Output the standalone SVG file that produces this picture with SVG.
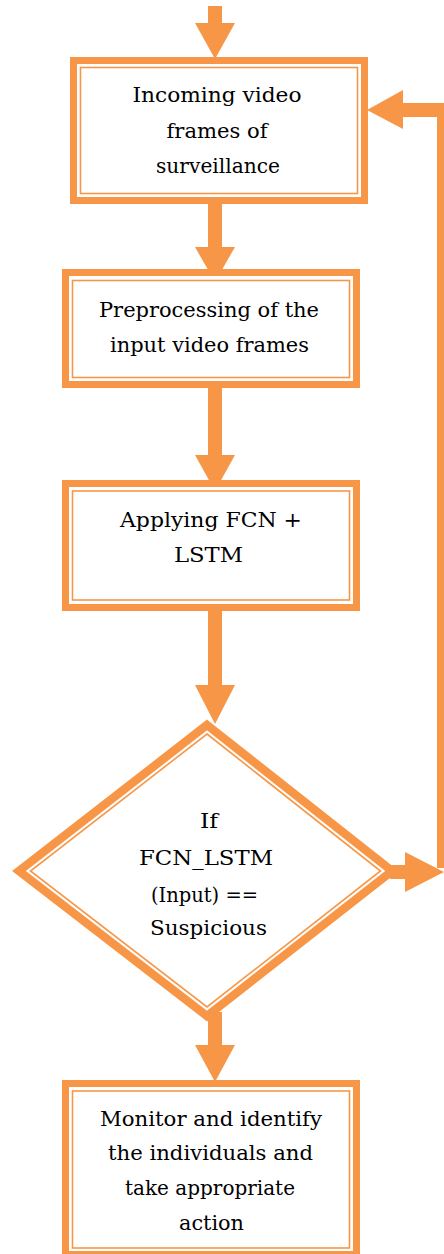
<svg xmlns="http://www.w3.org/2000/svg" width="444" height="1254" viewBox="0 0 444 1254">
<style>
.bg{fill:#FFFFFF}
.outer{fill:#FFFFFF;stroke:#F79646;stroke-width:7;stroke-linejoin:miter}
.dia{stroke-width:8.5}
.inner{fill:none;stroke:#F79646;stroke-width:1.6}
.shaft{stroke:#F79646;stroke-width:14;fill:none}
.head{fill:#F79646;stroke:none}
.t{font-family:"DejaVu Serif","Liberation Serif",serif;font-size:21px;fill:#000000;text-anchor:middle}
</style>
<rect class="bg" x="0" y="0" width="444" height="1254"/>
<g id="connectors">
  <line class="shaft" x1="215" y1="6" x2="215" y2="25"/>
  <polygon class="head" points="195,23 235,23 215,59"/>
  <line class="shaft" x1="215" y1="204" x2="215" y2="249"/>
  <polygon class="head" points="195,247 235,247 215,282"/>
  <line class="shaft" x1="215" y1="386" x2="215" y2="457"/>
  <polygon class="head" points="195,455 235,455 215,491"/>
  <line class="shaft" x1="215" y1="610" x2="215" y2="687"/>
  <polygon class="head" points="195,685 235,685 215,724"/>
  <line class="shaft" x1="215" y1="1012" x2="215" y2="1047"/>
  <polygon class="head" points="195,1045 235,1045 215,1082"/>
  <line class="shaft" x1="390" y1="872" x2="407" y2="872"/>
  <polygon class="head" points="405,852 405,892 444,872"/>
  <line class="shaft" x1="444" y1="868" x2="444" y2="103"/>
  <line class="shaft" x1="451" y1="110" x2="401" y2="110"/>
  <polygon class="head" points="403,90 403,129 367,110"/>
</g>
<g id="node-incoming">
  <rect class="outer" x="73.5" y="60.5" width="291" height="140"/>
  <rect class="inner" x="80.5" y="67.5" width="277" height="126"/>
  <text class="t" x="217" y="102" textLength="169" lengthAdjust="spacingAndGlyphs">Incoming video</text>
  <text class="t" x="217" y="138" textLength="101" lengthAdjust="spacingAndGlyphs">frames of</text>
  <text class="t" x="218" y="173" textLength="124" lengthAdjust="spacingAndGlyphs">surveillance</text>
</g>
<g id="node-preprocessing">
  <rect class="outer" x="65.5" y="272.5" width="291" height="112"/>
  <rect class="inner" x="72.5" y="280.5" width="277" height="97"/>
  <text class="t" x="209" y="317" textLength="220" lengthAdjust="spacingAndGlyphs">Preprocessing of the</text>
  <text class="t" x="209.5" y="352" textLength="199" lengthAdjust="spacingAndGlyphs">input video frames</text>
</g>
<g id="node-fcn">
  <rect class="outer" x="65.5" y="483.5" width="291" height="124"/>
  <rect class="inner" x="72.5" y="491" width="277" height="109"/>
  <text class="t" x="211" y="527" textLength="182" lengthAdjust="spacingAndGlyphs">Applying FCN +</text>
  <text class="t" x="208.5" y="562" textLength="69" lengthAdjust="spacingAndGlyphs">LSTM</text>
</g>
<g id="node-decision">
  <polygon class="outer dia" points="207,725 392,871 207,1016 19,871"/>
  <polygon class="inner" points="207,734 380.5,871 207,1007 30.5,871"/>
  <text class="t" x="209" y="828" textLength="18" lengthAdjust="spacingAndGlyphs">If</text>
  <text class="t" x="206" y="865" textLength="134" lengthAdjust="spacingAndGlyphs">FCN_LSTM</text>
  <text class="t" x="204.5" y="902" textLength="107" lengthAdjust="spacingAndGlyphs">(Input) ==</text>
  <text class="t" x="208.5" y="935" textLength="117" lengthAdjust="spacingAndGlyphs">Suspicious</text>
</g>
<g id="node-monitor">
  <rect class="outer" x="65.5" y="1083.5" width="291" height="171"/>
  <rect class="inner" x="72.5" y="1091" width="277" height="157"/>
  <text class="t" x="211" y="1126" textLength="222" lengthAdjust="spacingAndGlyphs">Monitor and identify</text>
  <text class="t" x="210.5" y="1160" textLength="205" lengthAdjust="spacingAndGlyphs">the individuals and</text>
  <text class="t" x="210" y="1195" textLength="170" lengthAdjust="spacingAndGlyphs">take appropriate</text>
  <text class="t" x="211.5" y="1230" textLength="65" lengthAdjust="spacingAndGlyphs">action</text>
</g>
</svg>
